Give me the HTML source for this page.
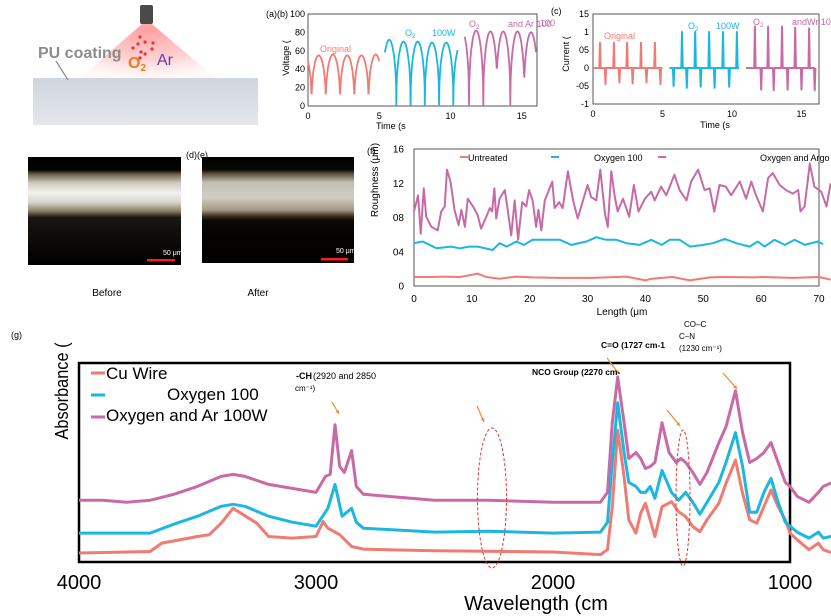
<!DOCTYPE html>
<html><head><meta charset="utf-8"><style>
html,body{margin:0;padding:0;background:#fff;}
svg{display:block;font-family:"Liberation Sans",sans-serif;}
</style></head><body>
<svg id="fig" width="831" height="616" viewBox="0 0 831 616" xmlns="http://www.w3.org/2000/svg">
<defs>
<radialGradient id="plume" cx="0.5" cy="0.1" r="0.9"><stop offset="0" stop-color="#ff9a9a" stop-opacity="0.95"/><stop offset="0.6" stop-color="#ffb0b0" stop-opacity="0.6"/><stop offset="1" stop-color="#ffe0e0" stop-opacity="0.2"/></radialGradient>
<linearGradient id="slab" x1="0" y1="0" x2="0" y2="1"><stop offset="0" stop-color="#d0d6dd"/><stop offset="1" stop-color="#e3e7ec"/></linearGradient>
<linearGradient id="bandD" x1="0" y1="0" x2="0" y2="1"><stop offset="0" stop-color="#000"/><stop offset="0.12" stop-color="#050403"/><stop offset="0.16" stop-color="#6b6150"/><stop offset="0.24" stop-color="#cfcabd"/><stop offset="0.33" stop-color="#f2f1ec"/><stop offset="0.42" stop-color="#d8d5cc"/><stop offset="0.5" stop-color="#8a7f66"/><stop offset="0.56" stop-color="#1a1510"/><stop offset="1" stop-color="#000"/></linearGradient>
<linearGradient id="bandE" x1="0" y1="0" x2="0" y2="1"><stop offset="0" stop-color="#000"/><stop offset="0.12" stop-color="#0a0805"/><stop offset="0.16" stop-color="#5e5442"/><stop offset="0.24" stop-color="#c3bfb2"/><stop offset="0.38" stop-color="#d0cdc2"/><stop offset="0.5" stop-color="#a49a84"/><stop offset="0.56" stop-color="#3a2c1e"/><stop offset="0.6" stop-color="#0a0705"/><stop offset="1" stop-color="#000"/></linearGradient>
</defs>

<!-- panel a illustration -->
<g>
<rect x="33" y="78" width="225" height="47" fill="url(#slab)"/>
<polygon points="142,24 152,24 215,78 80,78" fill="url(#plume)"/>
<rect x="140" y="5" width="13" height="19" rx="2" fill="#4a4a4a"/>
<g fill="#e8332f"><circle cx="140" cy="37" r="1.6"/><circle cx="145" cy="42" r="1.6"/><circle cx="138" cy="44" r="1.6"/><circle cx="133" cy="48" r="1.6"/><circle cx="141" cy="52" r="1.6"/><circle cx="145" cy="54" r="1.6"/><circle cx="153" cy="43" r="1.6"/><circle cx="152" cy="49" r="1.6"/><circle cx="140" cy="58" r="1.6"/></g>
<text x="38" y="58" font-size="16" font-weight="bold" fill="#8c8c8c">PU coating</text>
<line x1="56" y1="61" x2="68" y2="80" stroke="#8c8c8c" stroke-width="1.2"/>
<text x="128" y="68" font-size="16" font-weight="bold" fill="#f07a1a">O<tspan font-size="10" dy="3">2</tspan></text>
<text x="157" y="65" font-size="16" fill="#6a3aa8">Ar</text>
</g>

<!-- panels d, e -->
<g>
<rect x="28" y="157" width="153" height="108" fill="url(#bandD)"/>
<rect x="147" y="259" width="28" height="2.5" fill="#ff1a1a"/>
<text x="163" y="255" font-size="7" fill="#fff">50 μm</text>
</g>
<g>
<rect x="202" y="157" width="152" height="106" fill="url(#bandE)"/>
<rect x="321" y="258" width="27" height="2.5" fill="#ff1a1a"/>
<text x="336" y="253" font-size="7" fill="#fff">50 μm</text>
</g>
<text x="186" y="158" font-size="9">(d)(e)</text>
<text x="107" y="296" text-anchor="middle" font-size="10">Before</text>
<text x="258" y="296" text-anchor="middle" font-size="10">After</text>

<g id="chartB"></g>
<g id="chartC"></g>
<g id="chartF"></g>
<g id="chartG"></g>
</svg>
<script>
// ---------- panel b data ----------
const bSegStart = [0, 5.4, 11.0];
const bSegEnd = [5.0, 10.5, 16.0];
const bPeakTimes = [[0.75,1.75,2.75,3.75,4.75],[5.7,6.7,7.7,8.7,9.7,10.7],[11.8,12.8,13.7,14.7,15.65]];
const bPeakValues = [[55,56,55,55,56],[72,70,70,69,69,66],[82,81,81,81,80]];
const bColors = ["#f07b72","#1cb6e3","#c76aa6"];
const bYTicks = [0,20,40,60,80,100];
const bXTicks = [0,5,10,15];
// ---------- panel c data ----------
const cSegStart = [0, 5.5, 11.0];
const cSegEnd = [5.0, 10.5, 16.0];
const cPosTimes = [[0.5,1.5,2.45,3.45,4.45],[6.4,7.35,8.35,9.35,10.35],[11.65,12.6,13.6,14.55,15.55]];
const cPosValues = [[0.7,0.7,0.7,0.7,0.7],[1.0,1.0,1.0,1.0,1.0],[1.15,1.15,1.15,1.12,1.1]];
const cNegTimes = [[0.9,1.9,2.85,3.85,4.85],[5.8,6.75,7.75,8.75,9.8],[12.1,13.0,14.0,15.0,15.95]];
const cNegValues = [[-0.45,-0.4,-0.43,-0.4,-0.45],[-0.5,-0.55,-0.52,-0.55,-0.52],[-0.6,-0.62,-0.6,-0.6,-0.62]];
const cYTicks = [-1,-0.5,0,0.5,1,1.5];
const cYTickLabels = ["-1","-05","0","05","1","15"];
const cXTicks = [0,5,10,15];
// ---------- panel f data ----------
const fArL = [0,0.7,1.15,1.7,2.1,3,4.1,4.7,5.3,5.7,6.3,7,7.7,8.2,8.8,9.3,10.2,11,11.6,12.5,13.1,13.5,13.9,14.2,14.8,15.7,16.2,16.8,17.4,18,18.7,19.4,19.9,20.5,21.1,21.5,22,22.6,23.9,24.3,25.1,25.7,26.6,27.5,28.3,29.3,30,30.6,31.5,32.2,33,33.5,34.1,34.7,35.2,36.1,37.2,38,38.8,39.9,41,41.6,42.7,43.6,45,45.9,47.1,47.9,49.1,50.2,51.1,51.9,52.8,53.9,54.8,56.3,57.4,58.3,59.1,60.3,61.2,62,63.2,64.3,65.5,66.4,66.8,67.5,68.4,69.2,70.4,71.3,72];
const fArV = [0.87,1.06,0.61,1.14,0.81,0.69,0.65,0.87,0.93,1.36,1.22,0.89,0.71,0.89,0.69,1.02,0.93,0.83,0.67,0.81,0.91,0.87,1.14,0.79,1.02,1.12,0.89,0.59,1.0,0.54,0.98,0.93,1.12,1.0,0.69,0.89,0.65,1.0,1.22,0.91,0.98,0.91,1.34,1.0,0.79,1.02,1.18,1.04,1.0,1.36,0.85,0.69,1.34,1.04,0.87,1.02,0.81,1.18,0.87,1.02,1.1,1.0,1.16,1.06,1.3,1.12,1.0,1.22,1.36,1.12,1.14,0.87,1.18,1.16,1.06,1.22,1.02,1.22,1.06,0.87,1.26,1.32,1.18,1.12,1.08,1.12,0.87,0.93,1.43,1.16,1.1,0.93,1.2];
const fOxL = [0,1.5,3.9,6.4,7.9,9.6,11,13.6,14.8,16,17.7,19,20.5,22.9,25.2,27.2,29.8,31.5,33.2,35,36.7,39,41,42.8,44.2,45.9,47.7,50,51.7,53.7,55.7,58,59.4,60.6,62.3,64.1,65.8,67.5,69.8,70.7];
const fOxV = [0.5,0.52,0.44,0.46,0.44,0.46,0.46,0.42,0.5,0.46,0.52,0.48,0.54,0.54,0.54,0.48,0.52,0.57,0.54,0.54,0.5,0.48,0.54,0.48,0.54,0.54,0.46,0.48,0.5,0.55,0.5,0.46,0.52,0.46,0.54,0.48,0.54,0.48,0.52,0.49];
const fUnL = [0,3,5,7.9,9.6,11,12.5,14.8,17.7,20.5,25.2,31,36.7,40,41.1,44.7,47.7,51.1,54,58.6,60.3,65.5,70,72];
const fUnV = [0.105,0.105,0.11,0.105,0.125,0.145,0.105,0.085,0.11,0.1,0.095,0.095,0.11,0.065,0.085,0.105,0.065,0.1,0.105,0.1,0.105,0.095,0.105,0.075];
const fYTicks = [0,0.4,0.8,1.2,1.6];
const fYTickLabels = ["0","04","08","12","16"];
const fXTicks = [0,10,20,30,40,50,60,70];
// ---------- panel g data ----------
const gCuX = [4000,3700,3650,3500,3450,3400,3350,3250,3200,3100,3000,2970,2950,2900,2850,2800,2700,2500,2000,1800,1770,1750,1727,1700,1680,1650,1630,1610,1590,1570,1540,1500,1470,1440,1410,1380,1350,1300,1270,1230,1200,1170,1140,1110,1080,1050,1020,1000,970,920,880,860,820];
const gCuY = [.045,.053,.095,.128,.137,.195,.27,.195,.128,.12,.128,.203,.17,.137,.078,.065,.062,.057,.05,.037,.062,.278,.662,.428,.212,.145,.245,.295,.212,.128,.278,.303,.253,.228,.178,.153,.212,.295,.395,.512,.345,.212,.195,.278,.362,.278,.212,.145,.112,.062,.095,.062,.045];
const gOxX = [4000,3700,3600,3500,3400,3350,3300,3200,3100,3000,2950,2920,2890,2850,2830,2800,2500,2270,2000,1800,1770,1750,1727,1700,1680,1650,1630,1610,1590,1570,1540,1500,1470,1440,1410,1380,1350,1300,1270,1230,1200,1170,1140,1110,1080,1050,1020,1000,970,920,880,860,820];
const gOxY = [.145,.145,.19,.23,.28,.29,.28,.23,.2,.18,.27,.39,.23,.27,.2,.17,.15,.155,.145,.15,.2,.5,.8,.55,.4,.38,.35,.35,.38,.32,.46,.35,.31,.35,.3,.24,.3,.4,.5,.65,.48,.25,.25,.35,.42,.3,.2,.18,.15,.12,.15,.12,.13];
const gArX = [4000,3900,3800,3700,3600,3500,3400,3350,3300,3200,3100,3000,2960,2940,2920,2900,2880,2850,2830,2800,2500,2270,2000,1800,1770,1750,1727,1700,1680,1650,1630,1610,1590,1570,1540,1510,1480,1460,1440,1410,1380,1350,1300,1270,1230,1200,1170,1140,1110,1080,1050,1020,1000,970,920,880,860,820];
const gArY = [.31,.31,.3,.31,.34,.38,.43,.44,.43,.39,.37,.35,.43,.44,.69,.48,.45,.56,.38,.34,.31,.31,.3,.3,.35,.7,.93,.7,.52,.55,.52,.47,.48,.5,.7,.55,.5,.52,.5,.45,.39,.45,.6,.68,.86,.65,.5,.52,.55,.6,.5,.4,.38,.33,.3,.35,.38,.4];
const gXTicks = [4000,3000,2000,1000];

const NS = "http://www.w3.org/2000/svg";
function mk(parent, tag, attrs, txt){const e=document.createElementNS(NS,tag);for(const k in attrs)e.setAttribute(k,attrs[k]);if(txt!==undefined)e.textContent=txt;parent.appendChild(e);return e;}

// ===== Panel b =====
(function(){
const g=document.getElementById('chartB');
const x=t=>308+t*14.25, y=v=>106-v*0.92;
const box=mk(g,'rect',{x:308,y:14,width:229,height:92,fill:'none',stroke:'#555','stroke-width':1});


bYTicks.forEach(v=>{const t=mk(g,'text',{x:305,y:y(v)+3,'text-anchor':'end','font-size':9},String(v));

});
bXTicks.forEach(v=>{const t=mk(g,'text',{x:x(v),y:119,'text-anchor':'middle','font-size':9},String(v));

});
for(let s=0;s<3;s++){
 let d='';
 for(let t=bSegStart[s];t<=bSegEnd[s]+1e-9;t+=0.02){
  let bi=0,bd=1e9;bPeakTimes[s].forEach((p,i)=>{if(Math.abs(t-p)<bd){bd=Math.abs(t-p);bi=i;}});
  const v=bPeakValues[s][bi]*Math.pow(Math.abs(Math.cos(Math.PI*(t-bPeakTimes[s][bi]))),0.4);
  d+=(d?'L':'M')+x(t).toFixed(1)+','+y(v).toFixed(1);
 }
 const p=mk(g,'path',{d:d,fill:'none',stroke:bColors[s],'stroke-width':1.8});
 
 
}
const lab=[['(a)(b)',266,17,'#000'],['Original',320,52,'#f07b72'],['100W',432,36,'#1cb6e3'],['and Ar 100',508,27,'#c76aa6']];
lab.forEach(l=>{const t=mk(g,'text',{x:l[1],y:l[2],'font-size':9,fill:l[3]},l[0]);

});
const o1=mk(g,'text',{x:405,y:36,'font-size':9,fill:'#1cb6e3'});o1.innerHTML='O<tspan font-size="6" dy="2">2</tspan>';


const o2=mk(g,'text',{x:469,y:27,'font-size':9,fill:'#c76aa6'});o2.innerHTML='O<tspan font-size="6" dy="2">2</tspan>';


const yt=mk(g,'text',{x:0,y:0,'font-size':9,transform:'translate(289,58) rotate(-90)','text-anchor':'middle'},'Voltage (');


const xt=mk(g,'text',{x:376,y:129,'font-size':9},'Time (s');


})();

// ===== Panel c =====
(function(){
const g=document.getElementById('chartC');
const x=t=>593+t*13.9, y=v=>68-v*36;
const box=mk(g,'rect',{x:593,y:14,width:226,height:90,fill:'none',stroke:'#555','stroke-width':1});


cYTicks.forEach((v,i)=>{const t=mk(g,'text',{x:589,y:y(v)+3,'text-anchor':'end','font-size':9},cYTickLabels[i]);

});
cXTicks.forEach(v=>{const t=mk(g,'text',{x:x(v),y:117,'text-anchor':'middle','font-size':9},String(v));

});
for(let s=0;s<3;s++){
 const ev=[];cPosTimes[s].forEach((t,i)=>ev.push([t,cPosValues[s][i]]));cNegTimes[s].forEach((t,i)=>ev.push([t,cNegValues[s][i]]));
 ev.sort((a,b)=>a[0]-b[0]);
 let d='M'+x(cSegStart[s]).toFixed(1)+','+y(0);
 ev.forEach(e=>{d+='L'+x(e[0]-0.05).toFixed(1)+','+y(0)+'L'+x(e[0]).toFixed(1)+','+y(e[1]).toFixed(1)+'L'+x(e[0]+0.05).toFixed(1)+','+y(0);});
 d+='L'+x(cSegEnd[s]).toFixed(1)+','+y(0);
 const p=mk(g,'path',{d:d,fill:'none',stroke:bColors[s],'stroke-width':2,'stroke-linejoin':'round'});
 
 
}
const lab=[['(c)',551,14,'#000'],['Original',604,39,'#f07b72'],['100W',716,29,'#1cb6e3'],['andWr 10',792,25,'#c76aa6'],['100',540,26,'#c76aa6']];
lab.forEach(l=>{const t=mk(g,'text',{x:l[1],y:l[2],'font-size':9,fill:l[3]},l[0]);

});
const o1=mk(g,'text',{x:688,y:29,'font-size':9,fill:'#1cb6e3'});o1.innerHTML='O<tspan font-size="6" dy="2">2</tspan>';


const o2=mk(g,'text',{x:753,y:25,'font-size':9,fill:'#c76aa6'});o2.innerHTML='O<tspan font-size="6" dy="2">2</tspan>';


const yt=mk(g,'text',{x:0,y:0,'font-size':9,transform:'translate(569,54) rotate(-90)','text-anchor':'middle'},'Current (');


const xt=mk(g,'text',{x:715,y:128,'font-size':9,'text-anchor':'middle'},'Time (s');


})();

// ===== Panel f =====
(function(){
const g=document.getElementById('chartF');
const x=L=>414+L*5.786, y=v=>286-v*85.6;
const box=mk(g,'rect',{x:414,y:149,width:405,height:137,fill:'none',stroke:'#555','stroke-width':1});


fYTicks.forEach((v,i)=>{const t=mk(g,'text',{x:404,y:y(v)+3.5,'text-anchor':'end','font-size':10},fYTickLabels[i]);

});
fXTicks.forEach(v=>{const t=mk(g,'text',{x:x(v),y:302,'text-anchor':'middle','font-size':10},String(v));

});
const series=[[fUnL,fUnV,'#f07b72','untreated'],[fOxL,fOxV,'#1cb6e3','oxygen-100'],[fArL,fArV,'#c76aa6','oxygen-argon']];
series.forEach(s=>{let d='';s[0].forEach((L,i)=>{d+=(i?'L':'M')+x(L).toFixed(1)+','+y(s[1][i]).toFixed(1);});
 const p=mk(g,'path',{d:d,fill:'none',stroke:s[2],'stroke-width':2,'stroke-linejoin':'round'});
 
 });
const leg=[[460,'Untreated',468,'#f07b72','start'],[551,'Oxygen 100',594,'#1cb6e3','start'],[658,'Oxygen and Argo',760,'#c76aa6','start']];
leg.forEach(l=>{const ln=mk(g,'line',{x1:l[0],y1:157,x2:l[0]+8,y2:157,stroke:l[3],'stroke-width':2});


const t=mk(g,'text',{x:l[2],y:161,'font-size':9},l[1]);

});
const f=mk(g,'text',{x:367,y:154,'font-size':9},'(f)');


const yt=mk(g,'text',{x:0,y:0,'font-size':10,transform:'translate(378,180) rotate(-90)','text-anchor':'middle'},'Roughness (μm)');


const xt=mk(g,'text',{x:622,y:315,'font-size':10,'text-anchor':'middle'},'Length (μm');


})();

// ===== Panel g =====
(function(){
const g=document.getElementById('chartG');
const x=w=>79+(4000-w)*0.237, y=a=>562-a*199;
const box=mk(g,'rect',{x:79,y:363,width:711,height:199,fill:'none',stroke:'#000','stroke-width':2.5});


gXTicks.forEach(v=>{const t=mk(g,'text',{x:x(v),y:589,'text-anchor':'middle','font-size':20},String(v));

});
const series=[[gCuX,gCuY,'#f07b72','cu-wire'],[gOxX,gOxY,'#1cb6e3','oxygen-100'],[gArX,gArY,'#c76aa6','oxygen-ar']];
series.forEach(s=>{let d='';s[0].forEach((w,i)=>{d+=(i?'L':'M')+x(w).toFixed(1)+','+y(s[1][i]).toFixed(1);});
 const p=mk(g,'path',{d:d,fill:'none',stroke:s[2],'stroke-width':3,'stroke-linejoin':'round'});
 
 });
const leg=[[379,373,'Cu Wire',106,'#f07b72'],[400,395,'Oxygen 100',167,'#1cb6e3'],[421,417,'Oxygen and Ar 100W',106,'#c76aa6']];
leg.forEach(l=>{const ln=mk(g,'line',{x1:91,y1:l[1],x2:105,y2:l[1],stroke:l[4],'stroke-width':3});


const t=mk(g,'text',{x:l[3],y:l[0],'font-size':17},l[2]);

});
const el1=mk(g,'ellipse',{cx:492,cy:498,rx:14.5,ry:70,fill:'none',stroke:'#e8332f','stroke-width':1,'stroke-dasharray':'3,2'});


const el2=mk(g,'ellipse',{cx:683,cy:498,rx:7,ry:68,fill:'none',stroke:'#e8332f','stroke-width':1,'stroke-dasharray':'3,2'});


const arrows=[[332,402,339,414],[477,406,484,422],[607,358,619,374],[667,410,680,426],[723,373,737,389]];
arrows.forEach(a=>{const ln=mk(g,'line',{x1:a[0],y1:a[1],x2:a[2],y2:a[3],stroke:'#f08a30','stroke-width':1.2});


const ang=Math.atan2(a[3]-a[1],a[2]-a[0]);
const hp=[[a[2],a[3]],[a[2]-4*Math.cos(ang-0.5),a[3]-4*Math.sin(ang-0.5)],[a[2]-4*Math.cos(ang+0.5),a[3]-4*Math.sin(ang+0.5)]];
const h=mk(g,'polygon',{points:hp.map(p=>p.join(',')).join(' '),fill:'#f08a30'});

});
const ann=[['(g)',11,338,9,'normal'],['-CH',296,379,9,'bold'],['(2920 and 2850',313,379,9,'normal'],['cm⁻¹)',295,391,8,'normal'],['NCO Group (2270 cm-',532,375,8.5,'bold'],['C=O (1727 cm-1',601,348,8.5,'bold'],['CO–C',684,327,8,'normal'],['C–N',679,339,8,'normal'],['(1230 cm⁻¹)',679,351,8,'normal']];
ann.forEach(a=>{const t=mk(g,'text',{x:a[1],y:a[2],'font-size':a[3],'font-weight':a[4]},a[0]);

});
const yt=mk(g,'text',{x:0,y:0,'font-size':18,transform:'translate(68,391) rotate(-90)','text-anchor':'middle',textLength:97,lengthAdjust:'spacingAndGlyphs'},'Absorbance (');


const xt=mk(g,'text',{x:536,y:610,'font-size':20,'text-anchor':'middle'},'Wavelength (cm');


})();
</script>
</body></html>
